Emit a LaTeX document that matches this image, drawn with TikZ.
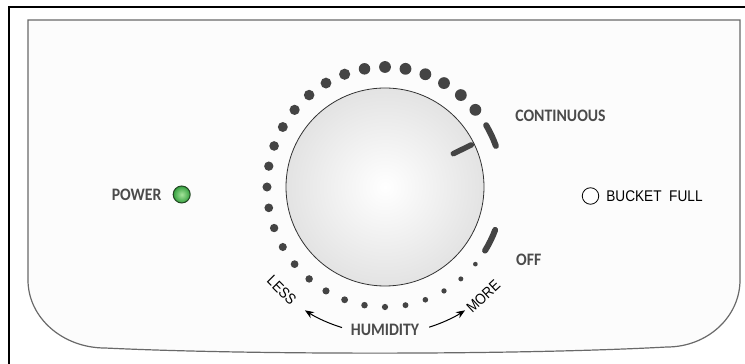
\documentclass[tikz,border=0pt]{standalone}
\usepackage{fontspec}
\newfontfamily\panelfont[FakeStretch=0.9]{Carlito}
\newfontfamily\narrowfont[FakeStretch=0.88]{Liberation Sans}
\usetikzlibrary{arrows.meta, positioning, calc}
\definecolor{DialGray}{RGB}{68,68,68}
\definecolor{LabelGray}{RGB}{75,75,75}
\definecolor{PanelLine}{RGB}{105,105,105}
\definecolor{LedGreen}{RGB}{52,160,62}
\definecolor{LedLight}{RGB}{165,228,155}
\definecolor{LedRim}{RGB}{35,70,35}
\tikzset{
  lbl/.style={inner sep=0pt, text=LabelGray,
              font=\panelfont\bfseries\fontsize{17.5pt}{17.5pt}\selectfont},
  thinlbl/.style={inner sep=0pt, text=black,
                  font=\narrowfont\fontsize{#1}{#1}\selectfont},
  dialmark/.style={line width=6pt, line cap=round, draw=DialGray},
  humarr/.style={-{Stealth[length=9pt, width=7pt]}, line width=1pt},
  lamp/.style={circle, inner sep=0pt, minimum size=#1},
}

\begin{document}
\begin{tikzpicture}[x=1pt, y=1pt, node distance=6pt]
  \useasboundingbox (0,0) rectangle (745,364);

  % frame and front panel
  \draw[line width=2pt] (9,-2) -- (9,357) -- (747,357);
  \draw[PanelLine, line width=1.2pt, fill=black!1]
    (28,84) -- (28,344) -- (740,344) -- (740,84)
    arc[start angle=0, end angle=-90, x radius=73, y radius=67]
    .. controls (520,9) and (250,9) .. (105,16)
    arc[start angle=270, end angle=180, x radius=77, y radius=68] -- cycle;

  % knob
  \node[lamp=198pt, draw=black!80, line width=0.8pt,
        inner color=white, outer color=black!11] (knob) at (385,177) {};

  % dial dots, shrinking towards MORE
  \foreach \a in {40,50,...,320} {
    \pgfmathsetmacro\dr{min(5.9, 5.9-(\a-90)*0.0155)}
    \fill[DialGray] (knob.center) ++(\a:118 and 120) circle[radius=\dr];
  }
  \draw[dialmark] (knob.center) ++(20:118 and 120)
    arc[start angle=20, end angle=31, x radius=118, y radius=120];
  \draw[dialmark] (knob.center) ++(-32:118 and 120)
    arc[start angle=-32, end angle=-21, x radius=118, y radius=120];
  \draw[dialmark, line width=5.5pt] (knob.center) ++(26:76) -- ++(26:20);

  % labels
  \node[lbl] (contlbl) at (560.5,248) {CONTINUOUS};
  \node[lbl] (offlbl) at (528.7,104.5) {OFF};
  \node[lbl] (humlbl) at (385,34) {HUMIDITY};
  \node[thinlbl=15pt, rotate=-45] (lesslbl) at ($(knob.center)+(225:146)$) {LESS};
  \node[thinlbl=15pt, rotate=43] (morelbl) at ($(knob.center)+(312:147)$) {MORE};

  % lamps
  \node[lamp=17pt, draw=LedRim, line width=1pt,
        inner color=LedLight, outer color=LedGreen] (powerled) at (181.7,169.5) {};
  \node[lbl, left=11pt of powerled] (powerlbl) {POWER};
  \node[lamp=16.5pt, draw=black, line width=0.8pt, fill=white] (bucketled) at (590.5,168) {};
  \node[thinlbl=15.5pt, right=7pt of bucketled] (bucketlbl) {BUCKET\ \ FULL};

  % humidity arrows
  \coordinate (humL) at ($(knob.center)+(253:147)$);
  \coordinate (humR) at ($(knob.center)+(287.5:147)$);
  \draw[humarr] (humL) arc[start angle=253, end angle=237, radius=147];
  \draw[humarr] (humR) arc[start angle=287.5, end angle=303, radius=147];
\end{tikzpicture}
\end{document}
